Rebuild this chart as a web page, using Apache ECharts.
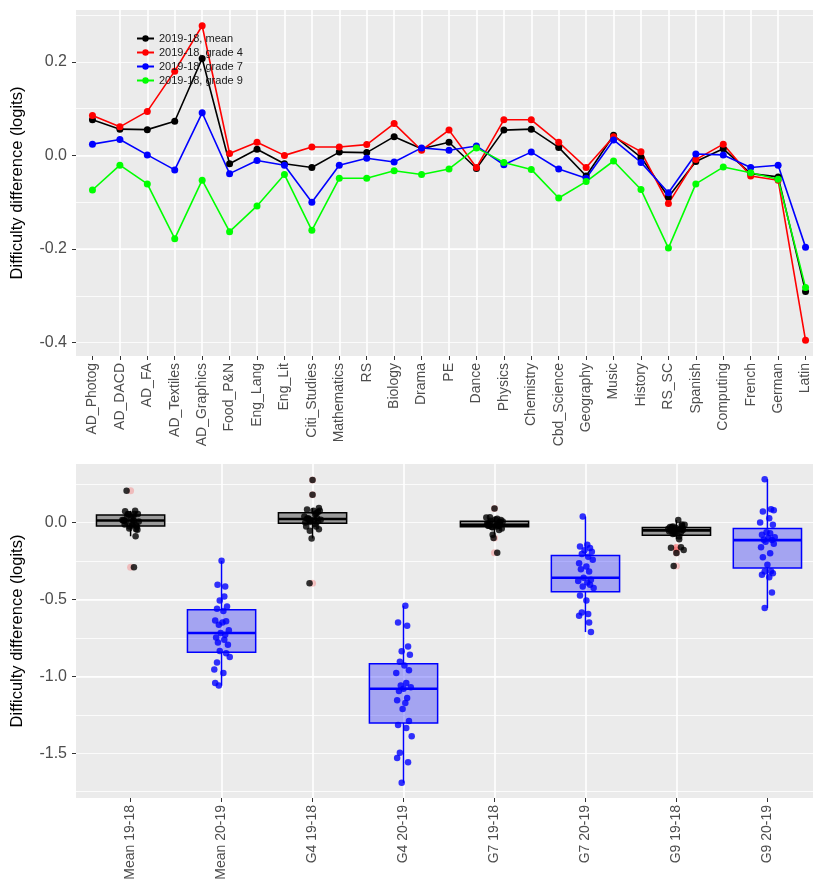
<!DOCTYPE html>
<html>
<head>
<meta charset="utf-8">
<script src="https://cdn.jsdelivr.net/npm/echarts@6/dist/echarts.min.js"></script>
<style>
  html, body { margin: 0; padding: 0; background: #fff; }
  #chart { width: 813px; height: 884px; }
</style>
</head>
<body>
<div id="chart"></div>
<script>
// subjects on the top panel
var subjects = ['AD_Photog', 'AD_DACD', 'AD_FA', 'AD_Textiles', 'AD_Graphics', 'Food_P&N', 'Eng_Lang', 'Eng_Lit',
  'Citi_Studies', 'Mathematics', 'RS', 'Biology', 'Drama', 'PE', 'Dance', 'Physics', 'Chemistry', 'Cbd_Science',
  'Geography', 'Music', 'History', 'RS_SC', 'Spanish', 'Computing', 'French', 'German', 'Latin'];

// 2019-18 difficulty differences per subject
var meanDiff = [0.076, 0.056, 0.055, 0.073, 0.207, -0.018, 0.013, -0.018, -0.026, 0.007, 0.006, 0.040, 0.014, 0.028,
  -0.028, 0.054, 0.056, 0.017, -0.044, 0.043, -0.004, -0.089, -0.013, 0.014, -0.039, -0.046, -0.291];
var g4Diff = [0.085, 0.061, 0.094, 0.180, 0.277, 0.004, 0.028, 0.000, 0.018, 0.018, 0.023, 0.068, 0.011, 0.054,
  -0.026, 0.076, 0.076, 0.028, -0.026, 0.040, 0.008, -0.103, -0.009, 0.024, -0.044, -0.053, -0.395];
var g7Diff = [0.024, 0.034, 0.001, -0.031, 0.091, -0.039, -0.011, -0.021, -0.100, -0.021, -0.006, -0.014, 0.016, 0.011,
  0.020, -0.020, 0.007, -0.029, -0.049, 0.033, -0.015, -0.080, 0.003, 0.001, -0.026, -0.021, -0.196];
var g9Diff = [-0.074, -0.021, -0.061, -0.178, -0.053, -0.163, -0.108, -0.041, -0.160, -0.049, -0.049, -0.033, -0.041, -0.029,
  0.016, -0.015, -0.030, -0.091, -0.056, -0.012, -0.073, -0.198, -0.061, -0.025, -0.037, -0.051, -0.282];

// 2020-19 differences (bottom panel, blue groups)
var mean2019 = [-0.249, -0.405, -0.415, -0.480, -0.506, -0.545, -0.560, -0.575, -0.636, -0.642, -0.649, -0.664, -0.700, -0.718,
  -0.730, -0.748, -0.762, -0.779, -0.794, -0.835, -0.850, -0.874, -0.909, -0.956, -0.978, -1.043, -1.060];
var g4_2019 = [-0.541, -0.649, -0.671, -0.805, -0.837, -0.859, -0.905, -0.930, -0.960, -0.978, -1.043, -1.060, -1.070, -1.080,
  -1.095, -1.140, -1.156, -1.173, -1.212, -1.290, -1.316, -1.335, -1.390, -1.497, -1.530, -1.558, -1.692];
var g7_2019 = [0.039, -0.145, -0.155, -0.166, -0.180, -0.190, -0.205, -0.223, -0.242, -0.265, -0.286, -0.303, -0.318, -0.359,
  -0.372, -0.380, -0.390, -0.405, -0.415, -0.426, -0.474, -0.506, -0.584, -0.595, -0.606, -0.649, -0.712];
var g9_2019 = [0.282, 0.087, 0.080, 0.072, 0.028, 0.000, -0.015, -0.063, -0.070, -0.080, -0.095, -0.100, -0.112, -0.114,
  -0.125, -0.138, -0.160, -0.199, -0.225, -0.275, -0.317, -0.318, -0.330, -0.340, -0.355, -0.455, -0.556];

// horizontal jitter of the points (category units)
var jitMean18 = [0.05, -0.03, 0.08, -0.06, -0.044, 0.02, -0.08, 0.06, -0.01, 0.09, -0.05, 0.03, -0.07, 0.01, 0.07, -0.02, 0.04, -0.09, 0.06, -0.04, 0.02, 0.055, -0.065, 0.035, -0.015, 0.075, 0.037];
var jitMean19 = [0.0, -0.044, 0.04, 0.03, -0.02, 0.06, -0.05, 0.02, -0.07, 0.05, 0.01, -0.03, 0.08, -0.01, 0.04, -0.06, 0.03, -0.04, 0.07, -0.02, 0.05, 0.09, -0.05, -0.08, 0.02, -0.07, -0.03];
var jitG4_18 = [-0.06, 0.04, 0.07, 0.0, 0.0, -0.03, 0.05, -0.08, 0.02, 0.09, -0.04, 0.06, -0.02, 0.03, -0.07, 0.08, 0.01, -0.05, 0.04, -0.09, 0.06, -0.01, 0.03, -0.06, 0.07, -0.03, -0.033];
var jitG4_19 = [0.02, -0.06, 0.04, 0.05, -0.02, 0.07, -0.04, 0.01, 0.06, -0.08, 0.03, -0.03, 0.08, 0.0, -0.05, 0.04, -0.07, 0.02, -0.01, 0.06, -0.06, 0.03, 0.09, -0.04, -0.07, 0.05, -0.02];
var jitG7_18 = [0.03, -0.05, 0.06, -0.02, 0.0, 0.08, -0.07, 0.04, -0.01, 0.05, -0.08, 0.02, 0.07, -0.04, 0.01, -0.06, 0.09, -0.03, 0.05, -0.09, 0.03, -0.02, 0.06, -0.05, 0.02, -0.07, 0.03];
var jitG7_19 = [-0.03, 0.02, -0.06, 0.05, -0.01, 0.07, -0.04, 0.03, 0.08, -0.07, 0.01, -0.05, 0.04, -0.02, 0.06, -0.08, 0.02, 0.05, -0.03, 0.09, -0.06, 0.01, -0.04, 0.03, -0.07, 0.04, 0.06];
var jitG9_18 = [-0.04, 0.06, -0.02, 0.08, 0.01, -0.06, 0.03, -0.09, 0.05, -0.03, 0.07, -0.01, 0.04, -0.07, 0.02, 0.09, -0.05, 0.03, -0.08, 0.06, -0.02, 0.0, 0.05, -0.04, 0.07, -0.06, -0.03];
var jitG9_19 = [-0.03, 0.04, 0.07, -0.05, 0.02, -0.08, 0.06, -0.01, 0.03, -0.06, 0.08, 0.01, -0.04, 0.05, -0.02, 0.07, -0.07, 0.03, -0.05, 0.0, 0.04, -0.03, 0.06, -0.06, 0.02, 0.05, -0.03];

var groups = ['Mean 19-18', 'Mean 20-19', 'G4 19-18', 'G4 20-19', 'G7 19-18', 'G7 20-19', 'G9 19-18', 'G9 20-19'];
var groupValues = [meanDiff, mean2019, g4Diff, g4_2019, g7Diff, g7_2019, g9Diff, g9_2019];
var groupJitter = [jitMean18, jitMean19, jitG4_18, jitG4_19, jitG7_18, jitG7_19, jitG9_18, jitG9_19];

var topYTicks = [-0.4, -0.2, 0.0, 0.2];
var bottomYTicks = [-1.5, -1.0, -0.5, 0.0];

var font = 'Liberation Sans, Arial, sans-serif';

// R type-7 quantile + ggplot whisker rule
function quantile(s, p) {
  var h = (s.length - 1) * p, lo = Math.floor(h);
  var hi = Math.min(lo + 1, s.length - 1);
  return s[lo] + (h - lo) * (s[hi] - s[lo]);
}
function boxStats(vals) {
  var s = vals.slice().sort(function (a, b) { return a - b; });
  var q1 = quantile(s, 0.25), md = quantile(s, 0.5), q3 = quantile(s, 0.75);
  var iqr = q3 - q1, lf = q1 - 1.5 * iqr, uf = q3 + 1.5 * iqr;
  var inside = s.filter(function (v) { return v >= lf && v <= uf; });
  var out = s.filter(function (v) { return v < lf || v > uf; });
  return { lo: inside[0], q1: q1, md: md, q3: q3, hi: inside[inside.length - 1], out: out };
}
function padRange(arrs) {
  var all = [].concat.apply([], arrs);
  var mn = Math.min.apply(null, all), mx = Math.max.apply(null, all), pad = (mx - mn) * 0.05;
  return [mn - pad, mx + pad];
}

var topRange = padRange([meanDiff, g4Diff, g7Diff, g9Diff]);
var botRange = padRange(groupValues);

var oldBoxes = [], newBoxes = [], outliers = [], oldPts = [], newPts = [];
groupValues.forEach(function (vals, g) {
  var st = boxStats(vals);
  var row = [g, st.lo, st.q1, st.md, st.q3, st.hi];
  (g % 2 === 0 ? oldBoxes : newBoxes).push(row);
  st.out.forEach(function (v) { outliers.push([g, v]); });
  vals.forEach(function (v, i) {
    (g % 2 === 0 ? oldPts : newPts).push([g + groupJitter[g][i], v]);
  });
});

function boxRenderer(fill, stroke) {
  return function (params, api) {
    var x = api.value(0);
    var lo = api.coord([x, api.value(1)]);
    var q1 = api.coord([x, api.value(2)]);
    var md = api.coord([x, api.value(3)]);
    var q3 = api.coord([x, api.value(4)]);
    var hi = api.coord([x, api.value(5)]);
    var w = api.size([0.75, 0])[0];
    return {
      type: 'group',
      children: [
        { type: 'line', shape: { x1: hi[0], y1: hi[1], x2: q3[0], y2: q3[1] }, style: { stroke: stroke, lineWidth: 1.5 } },
        { type: 'line', shape: { x1: q1[0], y1: q1[1], x2: lo[0], y2: lo[1] }, style: { stroke: stroke, lineWidth: 1.5 } },
        { type: 'rect', shape: { x: q3[0] - w / 2, y: q3[1], width: w, height: q1[1] - q3[1] }, style: { fill: fill, stroke: stroke, lineWidth: 1.5 } },
        { type: 'line', shape: { x1: md[0] - w / 2, y1: md[1], x2: md[0] + w / 2, y2: md[1] }, style: { stroke: stroke, lineWidth: 2.6 } }
      ]
    };
  };
}

function seriesData(vals) {
  return vals.map(function (v, i) { return [i, v]; });
}
function idx(arr) { return arr.map(function (d, i) { return i; }); }

var tickStyle = { show: true, length: 4, lineStyle: { color: '#333333', width: 1 } };
var majorLine = { show: true, showMinLine: false, showMaxLine: false, lineStyle: { color: '#ffffff', width: 1.6 } };
var minorLine = { show: true, showMinLine: false, showMaxLine: false, lineStyle: { color: '#ffffff', width: 0.8 } };
var hidden = { show: false };
var noLine = { show: false, onZero: false };

function lineSeries(name, vals, color) {
  return {
    name: name, type: 'line', xAxisIndex: 0, yAxisIndex: 0, data: seriesData(vals),
    symbol: 'circle', symbolSize: 7, showSymbol: true, z: 3,
    itemStyle: { color: color }, lineStyle: { color: color, width: 1.6 }
  };
}

var chart = echarts.init(document.getElementById('chart'), null, { renderer: 'canvas' });
chart.setOption({
  animation: false,
  backgroundColor: '#ffffff',
  textStyle: { fontFamily: font },
  grid: [
    { left: 76, width: 746, top: 10, height: 346, outerBoundsMode: 'none', containLabel: false,
      show: true, backgroundColor: '#EBEBEB', borderWidth: 0 },
    { left: 76, width: 746, top: 464, height: 334, outerBoundsMode: 'none', containLabel: false,
      show: true, backgroundColor: '#EBEBEB', borderWidth: 0 }
  ],
  legend: {
    left: 131, top: 28, orient: 'vertical', selectedMode: false,
    itemWidth: 17, itemHeight: 8, itemGap: 3,
    textStyle: { fontSize: 11, color: '#1A1A1A', fontFamily: font },
    data: ['2019-18, mean', '2019-18, grade 4', '2019-18, grade 7', '2019-18, grade 9']
  },
  xAxis: [
    {
      gridIndex: 0, type: 'value', position: 'bottom', min: -0.6, max: subjects.length - 0.4, minInterval: 1, maxInterval: 1,
      axisLine: noLine, splitLine: majorLine,
      axisTick: Object.assign({ customValues: idx(subjects) }, tickStyle),
      axisLabel: {
        customValues: idx(subjects), rotate: 90, margin: 7, fontSize: 14, color: '#4D4D4D', fontFamily: font,
        formatter: function (v) { return subjects[Math.round(v)]; }
      }
    },
    {
      gridIndex: 1, type: 'value', position: 'bottom', min: -0.6, max: groups.length - 0.4, minInterval: 1, maxInterval: 1,
      axisLine: noLine, splitLine: majorLine,
      axisTick: Object.assign({ customValues: idx(groups) }, tickStyle),
      axisLabel: {
        customValues: idx(groups), rotate: 90, margin: 7, fontSize: 14, color: '#4D4D4D', fontFamily: font,
        formatter: function (v) { return groups[Math.round(v)]; }
      }
    }
  ],
  yAxis: [
    {
      gridIndex: 0, type: 'value', position: 'left', min: topRange[0], max: topRange[1], minInterval: 0.2, maxInterval: 0.2,
      axisLine: noLine, splitLine: majorLine,
      axisTick: Object.assign({ customValues: topYTicks }, tickStyle),
      axisLabel: { customValues: topYTicks, margin: 9, fontSize: 16, color: '#4D4D4D', fontFamily: font,
        formatter: function (v) { return v.toFixed(1); } },
      name: 'Difficulty difference (logits)', nameLocation: 'middle', nameGap: 50,
      nameTextStyle: { fontSize: 16.5, color: '#000000', fontFamily: font }
    },
    {
      gridIndex: 0, type: 'value', position: 'left', min: topRange[0], max: topRange[1], minInterval: 0.1, maxInterval: 0.1,
      axisLine: noLine, axisTick: hidden, axisLabel: hidden, splitLine: minorLine
    },
    {
      gridIndex: 1, type: 'value', position: 'left', min: botRange[0], max: botRange[1], minInterval: 0.5, maxInterval: 0.5,
      axisLine: noLine, splitLine: majorLine,
      axisTick: Object.assign({ customValues: bottomYTicks }, tickStyle),
      axisLabel: { customValues: bottomYTicks, margin: 9, fontSize: 16, color: '#4D4D4D', fontFamily: font,
        formatter: function (v) { return v.toFixed(1); } },
      name: 'Difficulty difference (logits)', nameLocation: 'middle', nameGap: 50,
      nameTextStyle: { fontSize: 16.5, color: '#000000', fontFamily: font }
    },
    {
      gridIndex: 1, type: 'value', position: 'left', min: botRange[0], max: botRange[1], minInterval: 0.25, maxInterval: 0.25,
      axisLine: noLine, axisTick: hidden, axisLabel: hidden, splitLine: minorLine
    }
  ],
  series: [
    lineSeries('2019-18, mean', meanDiff, '#000000'),
    lineSeries('2019-18, grade 4', g4Diff, '#FF0000'),
    lineSeries('2019-18, grade 7', g7Diff, '#0000FF'),
    lineSeries('2019-18, grade 9', g9Diff, '#00FF00'),
    {
      type: 'custom', xAxisIndex: 1, yAxisIndex: 2, data: oldBoxes, z: 2,
      encode: { x: 0, y: [1, 2, 3, 4, 5] },
      renderItem: boxRenderer('#9A9A9A', '#000000')
    },
    {
      type: 'custom', xAxisIndex: 1, yAxisIndex: 2, data: newBoxes, z: 2,
      encode: { x: 0, y: [1, 2, 3, 4, 5] },
      renderItem: boxRenderer('rgba(0,0,255,0.3)', '#0000FF')
    },
    {
      type: 'scatter', xAxisIndex: 1, yAxisIndex: 2, data: outliers, z: 3,
      symbolSize: 7, itemStyle: { color: 'rgba(255,0,0,0.25)' }
    },
    {
      type: 'scatter', xAxisIndex: 1, yAxisIndex: 2, data: oldPts, z: 4,
      symbolSize: 6.5, itemStyle: { color: '#000000' }
    },
    {
      type: 'scatter', xAxisIndex: 1, yAxisIndex: 2, data: newPts, z: 4,
      symbolSize: 6.5, itemStyle: { color: '#0000FF' }
    }
  ]
});
window.addEventListener('resize', function () { chart.resize(); });
</script>
</body>
</html>
